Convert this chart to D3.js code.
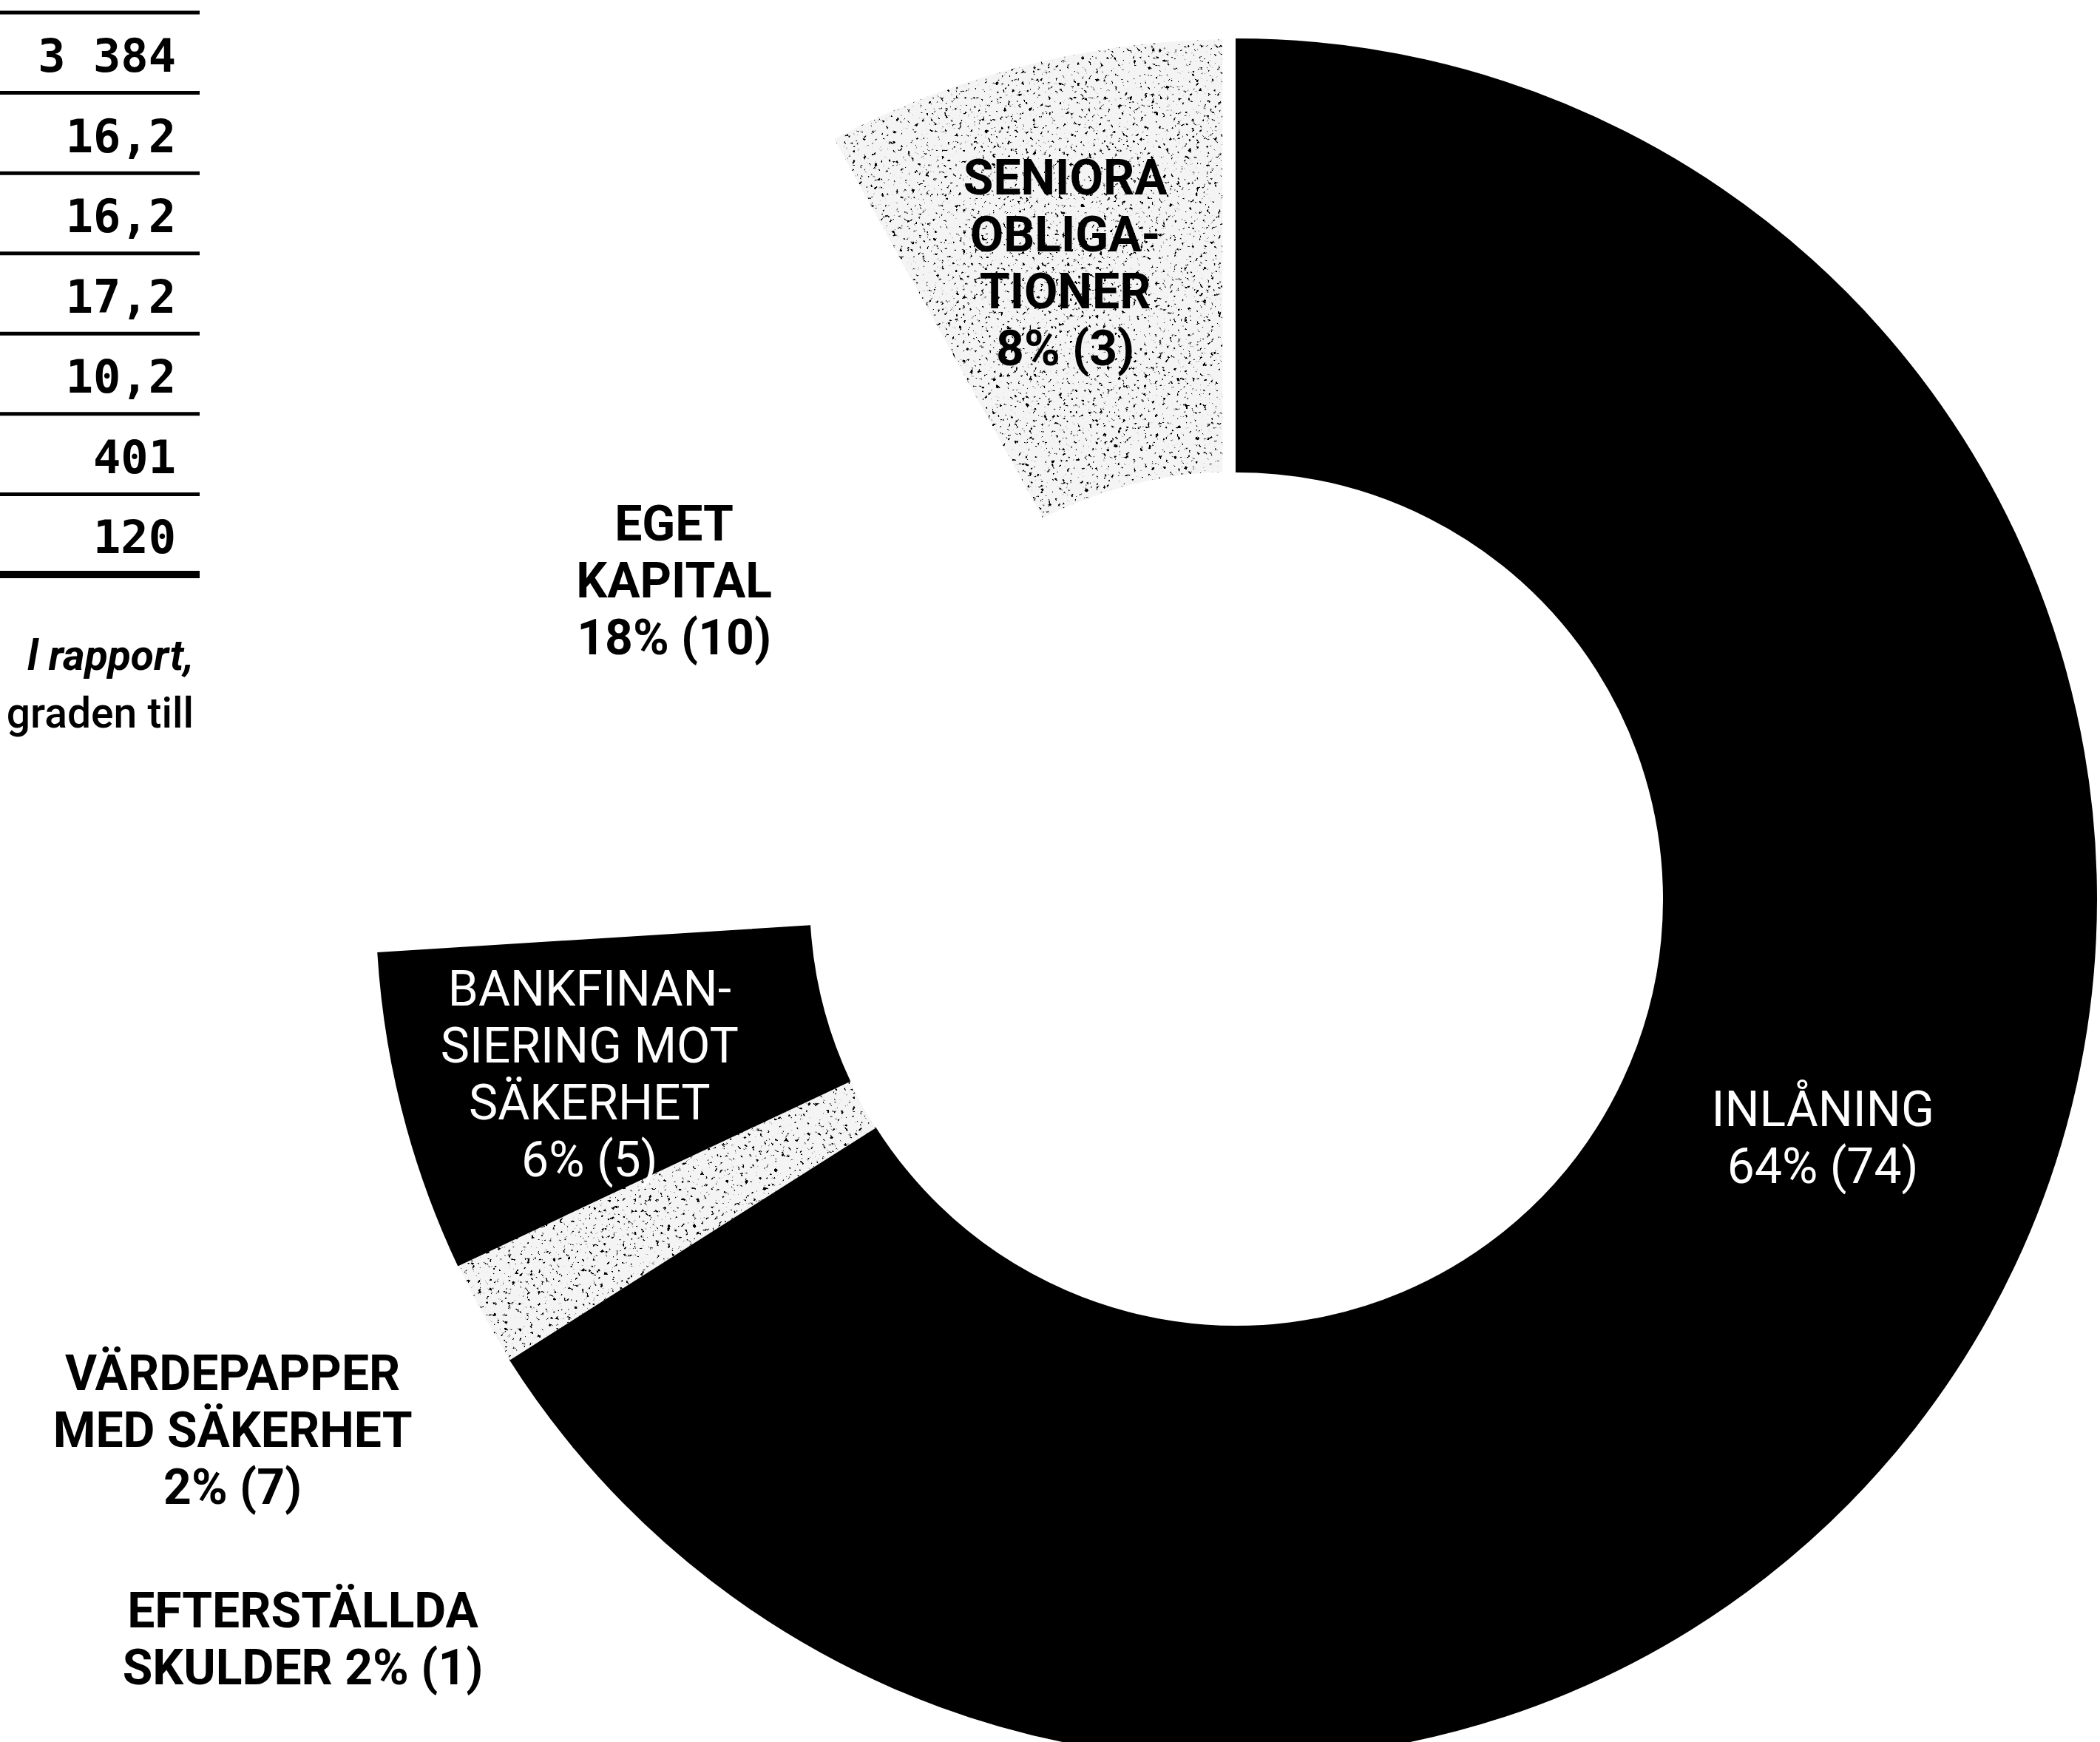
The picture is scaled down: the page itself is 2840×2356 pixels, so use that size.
<!DOCTYPE html>
<html lang="sv">
<head>
<meta charset="utf-8">
<title>Finansieringskällor</title>
<script src="https://cdn.jsdelivr.net/npm/d3@7"></script>
<style>
    html, body { margin: 0; padding: 0; background: #fff; }
    #chart { width: 2840px; height: 2356px; overflow: hidden; }
    svg { display: block; }
</style>
</head>
<body>
<div id="chart"></div>
<script>
// Finansiering, andel i procent (föregående år inom parentes), medurs från klockan tolv
const categories = ["Inlåning", "Efterställda skulder", "Värdepapper med säkerhet",
    "Bankfinansiering mot säkerhet", "Eget kapital", "Seniora obligationer"];
const shares = [64, 2, 2, 6, 18, 8];
const prevShares = [74, 1, 7, 5, 10, 3];
const labelLines = [
    ["INLÅNING"],
    ["EFTERSTÄLLDA", "SKULDER"],
    ["VÄRDEPAPPER", "MED SÄKERHET"],
    ["BANKFINAN-", "SIERING MOT", "SÄKERHET"],
    ["EGET", "KAPITAL"],
    ["SENIORA", "OBLIGA-", "TIONER"]
];
// true = procenten står på samma rad som sista ordet
const pctOnLastLine = [false, true, false, false, false, false];

// Tabellen uppe till vänster (bara värdekolumnen syns)
const tableValues = ["3\u2009384", "16,2", "16,2", "17,2", "10,2", "401", "120"];
const noteLines = ["l rapport,", "graden till"];

class FundingDonut {
    constructor(parentElement) {
        this.parentElement = parentElement;
        this.initVis();
    }

    initVis() {
        let vis = this;

        vis.width = 2840;
        vis.height = 2356;
        vis.cx = 1672;
        vis.cy = 1216;
        vis.innerRadius = 578;
        vis.outerRadius = 1163;

        vis.svg = d3.select("#" + vis.parentElement).append("svg")
            .attr("width", vis.width)
            .attr("height", vis.height)
            .attr("viewBox", [0, 0, vis.width, vis.height]);

        // Grainy print texture for the light segments
        let filter = vis.svg.append("defs").append("filter")
            .attr("id", "speckle")
            .attr("x", 0).attr("y", 0).attr("width", 1).attr("height", 1);
        filter.append("feTurbulence")
            .attr("type", "fractalNoise")
            .attr("baseFrequency", 0.2)
            .attr("numOctaves", 3)
            .attr("seed", 7)
            .attr("result", "noise");
        filter.append("feColorMatrix")
            .attr("in", "noise")
            .attr("type", "matrix")
            .attr("values", "0 0 0 0 0  0 0 0 0 0  0 0 0 0 0  14 0 0 0 -9")
            .attr("result", "specks");
        filter.append("feComposite")
            .attr("in", "specks").attr("in2", "SourceAlpha")
            .attr("operator", "in").attr("result", "clipped");
        let merge = filter.append("feMerge");
        merge.append("feMergeNode").attr("in", "SourceGraphic");
        merge.append("feMergeNode").attr("in", "clipped");

        vis.wrangleData();
    }

    wrangleData() {
        let vis = this;

        vis.segments = categories.map((name, i) => {
            let pct = `${shares[i]}% (${prevShares[i]})`;
            let lines = labelLines[i].slice();
            if (pctOnLastLine[i]) lines[lines.length - 1] += " " + pct;
            else lines.push(pct);
            return {name: name, share: shares[i], prev: prevShares[i], lines: lines};
        });

        vis.updateVis();
    }

    updateVis() {
        let vis = this;

        // fill + label placement per segment (same order as categories)
        let styles = [
            {fill: "#000", texture: false, pad: 0, labelColor: "#fff", weight: 400, r: 870, dx: 6, dy: -48},
            {fill: "#000", texture: false, pad: 0, labelColor: "#000", weight: 700, r: 1600, dx: 32, dy: 60},
            {fill: "#f4f4f4", texture: true, pad: 0, labelColor: "#000", weight: 700, r: 1533, dx: -14, dy: -21},
            {fill: "#000", texture: false, pad: 0, labelColor: "#fff", weight: 400, r: 870, dx: -32, dy: 20},
            {fill: "none", texture: false, pad: 0, labelColor: "#000", weight: 700, r: 870, dx: 2, dy: -12},
            {fill: "#f4f4f4", texture: true, pad: 0.029, labelColor: "#000", weight: 700, r: 870, dx: -15, dy: -18}
        ];

        vis.pie = d3.pie()
            .sort(null)
            .value(d => d.share);
        vis.pieData = vis.pie(vis.segments);

        vis.arc = d3.arc()
            .innerRadius(vis.innerRadius)
            .outerRadius(vis.outerRadius)
            .padAngle(d => styles[d.index].pad);

        // Donut (black slices get a matching stroke so neighbours merge without a seam)
        vis.svg.append("g")
            .attr("transform", `translate(${vis.cx},${vis.cy})`)
            .selectAll("path")
            .data(vis.pieData)
            .join("path")
            .attr("d", vis.arc)
            .attr("fill", d => styles[d.index].fill)
            .attr("stroke", d => styles[d.index].fill === "#000" ? "#000" : "none")
            .attr("stroke-width", 2)
            .attr("filter", d => styles[d.index].texture ? "url(#speckle)" : null);

        // Labels, centred on a point along each segment's middle angle
        let lineHeight = 77, capHeight = 47;
        vis.label = vis.svg.append("g")
            .attr("font-family", "Roboto, 'Noto Sans', sans-serif")
            .attr("font-size", 66)
            .attr("text-anchor", "middle")
            .selectAll("text")
            .data(vis.pieData)
            .join("text")
            .attr("fill", d => styles[d.index].labelColor)
            .attr("font-weight", d => styles[d.index].weight)
            .attr("transform", d => {
                let s = styles[d.index];
                let [x, y] = d3.arc().innerRadius(s.r).outerRadius(s.r).centroid(d);
                return `translate(${vis.cx + x + s.dx},${vis.cy + y + s.dy})`;
            });

        vis.label.selectAll("tspan")
            .data(d => d.data.lines.map((t, j, arr) => ({t: t, j: j, n: arr.length})))
            .join("tspan")
            .attr("x", 0)
            .attr("y", l => -(capHeight + (l.n - 1) * lineHeight) / 2 + capHeight + l.j * lineHeight)
            .text(l => l.t);

        // Table column on the left
        let rowY = d3.scaleLinear()
            .domain([0, tableValues.length])
            .range([17, 777]);

        let table = vis.svg.append("g");
        table.selectAll("line")
            .data(d3.range(tableValues.length + 1))
            .join("line")
            .attr("x1", 0)
            .attr("x2", 270)
            .attr("y1", i => rowY(i))
            .attr("y2", i => rowY(i))
            .attr("stroke", "#000")
            .attr("stroke-width", i => i === tableValues.length ? 10 : 5);

        table.selectAll("text")
            .data(tableValues)
            .join("text")
            .attr("x", 238)
            .attr("y", (d, i) => rowY(i) + 80)
            .attr("text-anchor", "end")
            .attr("font-family", "'DejaVu Sans Mono', 'Liberation Mono', monospace")
            .attr("font-weight", 700)
            .attr("font-size", 62)
            .attr("fill", "#000")
            .text(d => d);

        // Cut-off body text below the table
        vis.svg.append("g")
            .attr("font-family", "Roboto, 'Noto Sans', sans-serif")
            .attr("font-size", 57)
            .attr("text-anchor", "end")
            .selectAll("text")
            .data(noteLines)
            .join("text")
            .attr("x", 262)
            .attr("y", (d, i) => 906 + i * 78)
            .attr("font-style", (d, i) => i === 0 ? "italic" : "normal")
            .attr("font-weight", (d, i) => i === 0 ? 700 : 500)
            .attr("fill", "#000")
            .text(d => d);
    }
}

new FundingDonut("chart");
</script>
</body>
</html>
